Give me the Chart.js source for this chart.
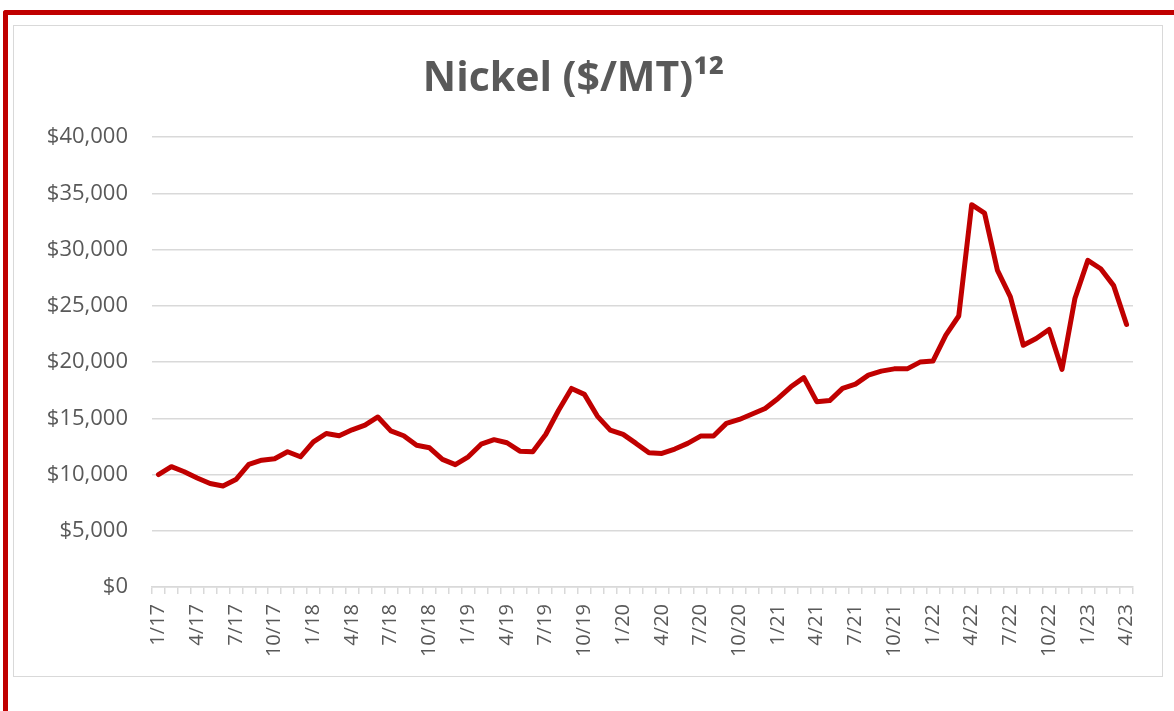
<!DOCTYPE html>
<html>
<head>
<meta charset="utf-8">
<script src="https://cdn.jsdelivr.net/npm/chart.js@4.4.0/dist/chart.umd.min.js"></script>
<style>
 body{margin:0;background:#fff;width:1174px;height:711px;overflow:hidden;position:relative;font-family:"Open Sans",sans-serif;}
 .frame{position:absolute;left:3px;top:10px;width:1200px;height:800px;border-top:5px solid #c00000;border-left:5px solid #c00000;border-top-left-radius:3px;}
 .box{position:absolute;left:13px;top:25px;width:1148px;height:650px;border:1px solid #d9d9d9;background:#fff;}
 canvas{display:block;}
</style>
</head>
<body>
<div class="frame"></div>
<div class="box"><canvas id="myChart" width="1148" height="650"></canvas></div>
<script>
// monthly labels 1/17 .. 4/23
const labels=[];
for(let y=17;y<=23;y++){
 for(let m=1;m<=12;m++){
   if(y===23&&m>4)break;
   labels.push(m+'/'+y);
 }
}

const nickel=[
 10000,10700,10250,9700,9200,8980,9550,10900,11280,11400,12030,11580,
 12900,13650,13450,13980,14400,15120,13880,13450,12600,12380,11350,10880,
 11580,12700,13100,12830,12080,12020,13560,15720,17660,17130,15200,13950,
 13570,12770,11930,11880,12270,12770,13420,13420,14550,14900,15380,15880,
 16770,17800,18620,16480,16580,17660,18040,18840,19200,19400,19400,20000,
 20090,22400,24100,34000,33250,28150,25800,21500,22100,22900,19350,25650,
 29050,28300,26800,23350
];

const yTicks=[0,5000,10000,15000,20000,25000,30000,35000,40000];

const ctx=document.getElementById('myChart');
if(ctx){
new Chart(ctx,{
 type:'line',
 data:{
   labels:labels,
   datasets:[{
     label:'Nickel',
     data:nickel,
     borderColor:'#c00000',
     borderWidth:5,
     pointRadius:0,
     tension:0,
     borderJoinStyle:'round',
     borderCapStyle:'round'
   }]
 },
 options:{
   responsive:false,
   animation:false,
   layout:{padding:{left:0,right:29,top:0,bottom:0}},
   plugins:{
     legend:{display:false},
     tooltip:{enabled:false},
     title:{
       display:true,
       text:'Nickel ($/MT)¹²',
       color:'#595959',
       font:{family:'Open Sans',size:41,weight:'bold',lineHeight:1.2},
       padding:{top:29,bottom:33}
     }
   },
   scales:{
     x:{
       offset:true,
       grid:{drawOnChartArea:false,drawTicks:true,tickLength:7,color:'#d9d9d9',lineWidth:1.5,offset:true},
       border:{display:true,color:'#d9d9d9',width:1.5},
       ticks:{
         autoSkip:false,maxRotation:90,minRotation:90,
         color:'#595959',font:{family:'Open Sans',size:20},padding:10,
         callback:function(v,i){return i%3===0?labels[i]:'';}
       },
       afterFit:function(s){s.height=89;}
     },
     y:{
       min:0,max:40000,
       afterBuildTicks:function(s){s.ticks=yTicks.map(v=>({value:v}));},
       grid:{color:'#d9d9d9',lineWidth:1.5,drawTicks:false},
       border:{display:false},
       ticks:{
         color:'#595959',font:{family:'Open Sans',size:22},padding:24,
         callback:function(v){return '$'+v.toLocaleString('en-US');}
       },
       afterFit:function(s){s.width=138;}
     }
   }
 }
});
}
</script>
</body>
</html>
